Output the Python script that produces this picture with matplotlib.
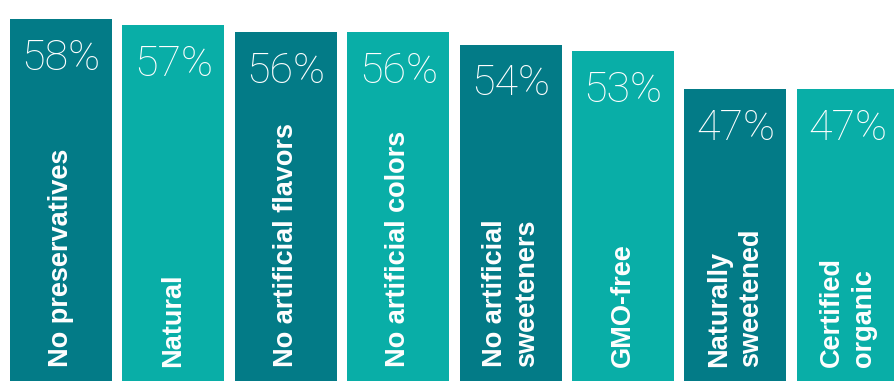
import matplotlib.pyplot as plt
import numpy as np

labels = ['No preservatives', 'Natural', 'No artificial flavors', 'No artificial colors',
          'No artificial\nsweeteners', 'GMO-free', 'Naturally\nsweetened', 'Certified\norganic']
values = [58, 57, 56, 56, 54, 53, 47, 47]

dark = '#037b87'
light = '#09aea7'
colors = [dark if i % 2 == 0 else light for i in range(len(values))]

fig = plt.figure(figsize=(8.94, 3.81), dpi=100)
ax = fig.add_axes([0, 0, 1, 1])
x = np.arange(len(values))
ax.bar(x, values, width=0.907, color=colors, bottom=0)
ax.set_xlim(-0.543, 7.411)
ax.set_ylim(1.1, 61.0)
ax.axis('off')

for xi, v, lab in zip(x, values, labels):
    # percentage near the top of the bar
    ax.text(xi, v - 6.2, f'{v}%', ha='center', va='center', color='white',
            fontsize=31, family='Roboto', fontweight='light')
    # category name, rotated, anchored at the bottom
    ax.text(xi, 3.3, lab, ha='center', va='bottom', rotation=90, color='white',
            fontsize=19.5, family='Liberation Sans', fontweight='bold',
            multialignment='left', linespacing=1.3)

fig.savefig('out.png', dpi=100)
